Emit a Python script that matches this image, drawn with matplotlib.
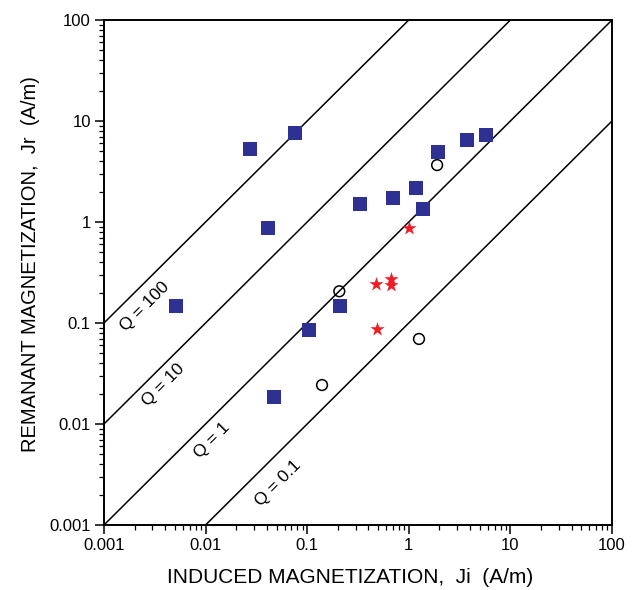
import matplotlib
matplotlib.use("Agg")
import matplotlib.pyplot as plt
import numpy as np

plt.rcParams['font.family'] = ['Liberation Sans', 'DejaVu Sans']

# squares (blue)
sq_ji = [0.0274, 0.0759, 0.0411, 0.00511, 0.0471, 0.104, 0.21, 0.331, 0.70, 1.175, 1.38, 1.94, 3.74, 5.75]
sq_jr = [5.28, 7.6, 0.873, 0.147, 0.0185, 0.0853, 0.147, 1.51, 1.73, 2.17, 1.35, 4.93, 6.49, 7.27]
# open circles
ci_ji = [1.90, 0.207, 1.26, 0.140]
ci_jr = [3.66, 0.206, 0.0695, 0.0243]
# red stars
st_ji = [1.01, 0.475, 0.673, 0.673, 0.49]
st_jr = [0.879, 0.245, 0.27, 0.240, 0.0879]

# Koenigsberger ratio lines and their label positions
q_values = [100, 10, 1, 0.1]
q_labels = ['Q = 100', 'Q = 10', 'Q = 1', 'Q = 0.1']
q_lab_x = [0.00254, 0.00384, 0.0115, 0.052]
q_lab_y = [0.145, 0.0243, 0.00695, 0.00259]

fig = plt.figure(figsize=(6.43, 5.90), dpi=100)
ax = fig.add_axes([0.1617, 0.1102, 0.7901, 0.8559])

xl = np.array([0.001, 100])
for q in q_values:
    ax.plot(xl, q * xl, color='black', lw=1.1, zorder=1)

for lab, lx, ly in zip(q_labels, q_lab_x, q_lab_y):
    ax.text(lx, ly, lab, rotation=45, ha='center', va='center',
            fontsize=12.5, rotation_mode='anchor')

ax.scatter(sq_ji, sq_jr, marker='s', s=95, color='#2e3192', zorder=3, linewidths=0)
ax.scatter(ci_ji, ci_jr, marker='o', s=60, facecolors='none', edgecolors='black',
           linewidths=1.1, zorder=3)
ax.scatter(st_ji, st_jr, marker='*', s=115, color='#ee1c25', zorder=3, linewidths=0)

ax.set_xscale('log')
ax.set_yscale('log')
ax.set_xlim(0.001, 100)
ax.set_ylim(0.001, 100)
ax.set_xticks([0.001, 0.01, 0.1, 1, 10, 100])
ax.set_xticklabels(['0.001', '0.01', '0.1', '1', '10', '100'])
ax.set_yticks([0.001, 0.01, 0.1, 1, 10, 100])
ax.set_yticklabels(['0.001', '0.01', '0.1', '1', '10', '100'])

ax.tick_params(which='major', direction='out', length=6.5, width=1.1, labelsize=12,
               top=False, right=False, pad=3)
ax.tick_params(which='minor', direction='out', length=3.5, width=0.9,
               top=False, right=False)
for sp in ax.spines.values():
    sp.set_linewidth(1.4)

ax.set_xlabel('INDUCED MAGNETIZATION,  Ji  (A/m)', fontsize=15, labelpad=7)
ax.xaxis.set_label_coords(0.485, -0.085)
ax.set_ylabel('REMANANT MAGNETIZATION,  Jr  (A/m)', fontsize=14.5, labelpad=6)
ax.yaxis.set_label_coords(-0.125, 0.517)

fig.savefig('out.png', dpi=100)
